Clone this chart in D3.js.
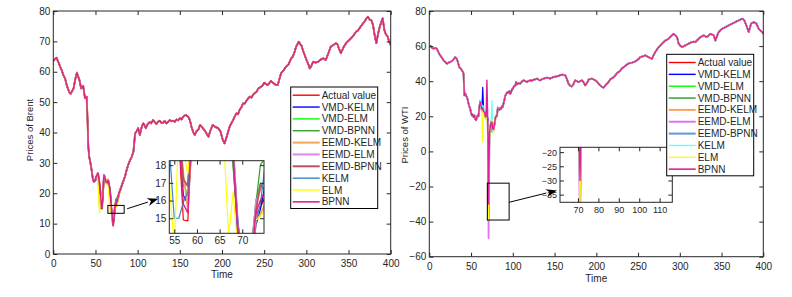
<!DOCTYPE html>
<html>
<head>
<meta charset="utf-8">
<script src="https://cdn.jsdelivr.net/npm/d3@7/dist/d3.min.js"></script>
<style>
body { margin: 0; background: #fff; }
text { font-family: "Liberation Sans", Arial, sans-serif; fill: #262626; }
</style>
</head>
<body>
<div id="chart"></div>
<script>
// ---- data ----
var seriesNames = ["Actual value", "VMD-KELM", "VMD-ELM", "VMD-BPNN", "EEMD-KELM",
    "EEMD-ELM", "EEMD-BPNN", "KELM", "ELM", "BPNN"];
var timeTicks = [0, 50, 100, 150, 200, 250, 300, 350, 400];
var brentTicks = [0, 10, 20, 30, 40, 50, 60, 70, 80];
var wtiTicks = [-60, -40, -20, 0, 20, 40, 60, 80];
var brentInsetXTicks = [55, 60, 65, 70];
var brentInsetYTicks = [15, 16, 17, 18];
var wtiInsetXTicks = [70, 80, 90, 100, 110];
var wtiInsetYTicks = [-20, -25, -30, -35];

// Brent, actual value (all models overlap it outside the crash window)
var brentT = [0, 2, 4, 5, 7, 9, 10, 12, 14, 16, 18, 19, 20.5, 22, 24, 26, 28, 29, 31, 33, 35.5, 37.5, 39.5, 40.5, 41.5, 42.6, 44, 45.4, 47, 48, 49,
    83, 85, 87, 89, 91, 93, 95, 97, 99, 100.6, 102.6, 104.5, 106.5, 108, 109.7, 112, 114.4, 116, 118.3, 120, 122.3, 124, 126.3, 128, 130, 132, 134, 136, 138, 140,
    142, 144, 146, 148, 150, 152, 154, 157, 160, 162, 163.8, 166, 167.7, 170, 172, 174, 177, 180, 182, 184, 186, 189, 192, 195, 198, 201, 203, 206, 209, 211,
    213, 215, 217, 219, 221, 223, 225, 227, 229, 231, 233, 235, 237, 239, 241, 243, 245, 248.5, 250, 252, 254, 256, 258, 260, 263, 266, 268, 270, 273, 276,
    279, 282, 284, 286, 288, 291, 293, 294, 296, 298, 300, 301, 303, 304, 306, 308, 311, 314, 317, 320, 323, 326, 329, 332, 335, 337, 338, 341, 344, 347,
    350, 353, 356, 359, 361, 363, 366, 369, 371, 373, 375, 377, 379, 381, 383, 385, 387, 389, 390.5, 392.5, 394, 396.5, 398, 400];
var brentV = [63.5, 64.2, 64.6, 63.8, 62.5, 61, 60.5, 58.8, 57.8, 55.5, 54, 53.2, 52.7, 53.5, 54.5, 57.5, 59.7, 58.8, 57.3, 54.5, 55.3, 51.3, 51.8, 45, 35.3, 32, 30, 27.7, 24.5, 23.8, 24.2,
    24, 25.5, 27.7, 29.5, 30.9, 32, 33.7, 39.7, 40.5, 41.4, 39.2, 41.5, 43, 42.5, 41.4, 42.8, 43.5, 43, 44.1, 43.5, 42.8, 43.5, 43.9, 43.2, 43.2, 43.8, 43, 43.5, 44.1, 43.7,
    43.9, 43.5, 44.3, 44, 44.7, 44.3, 45.2, 45.8, 45.2, 44, 41.9, 40, 39.2, 40.5, 41, 42.5, 41.5, 40.5, 39.5, 38.6, 40.5, 42.5, 41.8, 41.5, 40.5, 37.5, 36.4, 39, 41.9, 43,
    44, 45.2, 46.3, 46, 47.5, 48.3, 49.6, 49.5, 50.5, 51.2, 51.8, 51.5, 52.5, 53, 53.4, 54.5, 54.8, 55.6, 56.4, 56, 55.6, 56.2, 57, 56.5, 55.8, 55.6, 57.5, 59.5, 60.5, 61.7,
    62.5, 64.4, 65, 66.5, 68.3, 69.9, 69, 68.8, 67, 65.5, 64, 63.3, 62, 61.1, 62, 63.3, 63, 63.3, 64, 64.4, 63.9, 66, 68.3, 68.8, 69.4, 69, 68, 66.1, 68, 69.4,
    70.2, 71, 72, 73.2, 73.5, 74.3, 75.5, 76.5, 77.5, 78.1, 77.2, 77, 75.4, 72, 69.4, 72.5, 74.8, 76.5, 77.6, 73.7, 72.5, 71.5, 70, 68.8];

// Brent crash window, t = 50..80, one array per series
var brentWinT = d3.range(50, 81);
var brentActual = [24.5, 25.4, 26.0, 26.6, 24.5, 22.0, 19.5, 14.9, 14.85, 21.0, 26.0, 25.0, 23.8, 23.5, 23.3, 24.3, 22.5, 21.0, 18.5, 14.0, 11.5, 9.2, 12.5, 15.2, 15.6, 16.2, 17.8, 19.0, 20.0, 20.5, 21.5];
var brentVmdKelm = [24.0, 25.0, 25.8, 26.3, 25.0, 22.5, 20.0, 16.3, 15.8, 19.5, 25.0, 25.5, 24.0, 23.2, 23.5, 24.0, 23.0, 21.5, 19.0, 15.0, 12.0, 10.5, 11.8, 14.6, 15.5, 16.8, 17.5, 18.6, 19.8, 20.8, 21.3];
var brentVmdElm = [24.8, 25.2, 26.4, 26.2, 24.8, 21.5, 19.2, 17.1, 16.2, 20.5, 25.6, 25.2, 24.2, 23.8, 23.0, 24.5, 22.8, 20.5, 17.8, 14.5, 12.8, 10.8, 13.0, 16.0, 17.0, 16.5, 18.2, 19.4, 20.2, 20.8, 22.0];
var brentVmdBpnn = [24.2, 25.6, 26.1, 26.8, 24.2, 22.2, 19.8, 16.8, 17.0, 21.5, 25.8, 24.8, 23.6, 23.9, 23.6, 24.1, 22.2, 21.2, 18.6, 14.8, 13.2, 11.0, 13.5, 15.8, 18.0, 18.4, 18.8, 19.6, 20.6, 21.0, 21.8];
var brentEemdKelm = [24.6, 25.1, 26.2, 26.4, 25.2, 22.8, 20.5, 17.5, 15.5, 19.8, 25.2, 25.8, 24.5, 23.4, 23.1, 24.6, 23.2, 21.8, 19.3, 14.2, 11.3, 9.8, 11.0, 14.9, 15.2, 15.8, 17.0, 18.2, 19.5, 20.5, 21.2];
var brentEemdElm = [24.9, 25.5, 25.9, 26.7, 24.6, 22.4, 19.6, 18.4, 18.3, 21.3, 26.2, 25.4, 24.0, 23.6, 23.7, 24.2, 22.6, 21.4, 18.9, 14.6, 12.4, 10.2, 12.8, 15.9, 16.6, 17.2, 18.0, 19.2, 20.1, 20.9, 21.6];
var brentEemdBpnn = [24.4, 25.3, 26.3, 26.5, 24.9, 22.6, 20.2, 17.2, 16.8, 20.8, 25.4, 25.1, 24.3, 23.7, 23.4, 24.4, 22.9, 21.1, 18.2, 14.4, 11.8, 9.5, 12.2, 15.4, 16.9, 16.6, 17.3, 18.7, 19.9, 20.7, 21.9];
var brentKelm = [24.3, 25.7, 26.0, 26.2, 18.6, 15.0, 15.0, 15.9, 16.5, 20.0, 24.8, 25.6, 24.1, 23.3, 23.2, 24.2, 23.1, 21.6, 18.8, 13.8, 10.2, 9.9, 12.0, 14.8, 15.8, 17.9, 18.1, 18.9, 20.3, 20.6, 21.4];
var brentElm = [24.7, 25.0, 26.5, 25.8, 16.7, 13.4, 20.0, 18.8, 17.5, 20.4, 25.5, 25.3, 24.4, 23.0, 23.5, 24.5, 19.0, 14.0, 16.5, 13.2, 10.3, 10.8, 13.2, 14.9, 15.1, 15.5, 16.4, 18.5, 19.6, 20.4, 21.7];
var brentBpnn = [24.6, 25.4, 26.2, 26.5, 24.7, 22.3, 19.7, 15.8, 15.3, 20.6, 25.9, 25.2, 24.1, 23.6, 23.4, 24.3, 22.7, 21.3, 18.4, 14.3, 11.6, 9.6, 12.4, 15.3, 16.0, 16.5, 17.6, 18.8, 20.0, 20.7, 21.6];

// WTI, actual value
var wtiT = [1, 3, 5, 7, 9, 11, 13, 15, 17, 19, 21, 23, 25, 27, 28, 30, 31, 32.5, 33.6, 35, 36, 38, 39, 40, 41, 42, 43, 44, 45, 46, 47, 48, 49, 50, 51, 52, 53, 54, 55, 56, 57,
    83, 84, 85, 86, 87, 88, 89, 90, 91, 92, 93, 94, 95, 96, 97, 98, 99, 100, 101, 102, 103, 104, 105, 107, 109, 111, 113, 115, 117, 119, 121, 123, 125, 127, 129,
    131, 133, 135, 137, 139, 141, 143, 145, 147, 149, 151, 153, 155, 157, 159, 161, 163, 165, 166.7, 168.5, 170.7, 172.5, 174.7, 176.7, 178.7, 180.7, 182.7, 184.7,
    186.7, 188.7, 190.7, 192.7, 194.7, 196.7, 198.7, 200.7, 202.7, 204.7, 206.6, 208.6, 210.6, 212.6, 214.6, 216.6, 218.6, 220.6, 222.6, 224.6, 226.6, 228.6,
    230.6, 232.6, 234.6, 236.6, 238.6, 240.6, 242.6, 244.6, 246.6, 248.6, 250.6, 252.6, 254.6, 256.6, 258.6, 260.6, 262.6, 264.6, 266.7, 268.6, 270.6, 272.6,
    274.6, 276.6, 278.7, 280.6, 282.6, 284.6, 286.6, 288.6, 290.6, 292.6, 294.6, 296.7, 298.6, 300.6, 302.6, 304.6, 306.6, 308.6, 310.6, 312.6, 314.6, 316.6,
    318.6, 320.6, 322.6, 324.6, 326.6, 328.5, 330.6, 332.6, 334.6, 336.6, 338.6, 340.6, 342.6, 344.6, 346.5, 348.6, 350.6, 352.6, 354.6, 356.6, 358.5, 360.6,
    362.6, 364.6, 366.5, 368.6, 370.5, 372.6, 374.6, 376, 377.3, 379.7, 381, 382.5, 384, 385.4, 387, 388.5, 390, 391.7, 393, 394.5, 396.5, 398.5, 400];
var wtiV = [60.4, 59.2, 58.5, 59, 58.5, 56.5, 54.7, 53.5, 51.9, 51, 50, 50.6, 50.9, 51.5, 51.9, 53, 53.7, 53, 51.9, 49.5, 48, 47, 46.2, 45.5, 44.3, 31.9, 33, 32, 30.9, 29.5, 27.2, 25.5, 24.3, 22, 20.5, 21, 19.5, 20.5, 18.5, 17.7, 19.5,
    24, 23.6, 24.7, 24.1, 25.8, 25.3, 27.6, 29.4, 31.8, 32.5, 33.5, 33.9, 33.3, 34.4, 32.8, 33.7, 35.5, 35.4, 36.8, 37.3, 37.4, 39.6, 38.2, 38.9, 38.6, 39.8, 40.5, 40, 39.5, 40.2, 40.5, 40.3, 40.9, 41, 41.5,
    40.8, 40.5, 41.2, 41.5, 41.8, 42, 41.7, 41.5, 42, 42.4, 42.6, 42.8, 43.1, 43.4, 43.8, 43.6, 43.2, 41, 38.6, 37.5, 37, 38.2, 40.5, 40, 39.5, 40, 40.5, 39.5,
    37.6, 38.8, 40.9, 41.2, 41.5, 41, 40.5, 39.8, 38.6, 37.6, 36.8, 36.3, 37.5, 38.5, 39.5, 41, 41.6, 42.3, 43.2, 44.5, 45.2, 46,
    47.2, 48, 48.6, 49.5, 50, 50.4, 50.6, 50.9, 51.3, 51.9, 52.6, 53.7, 54, 54.3, 54.7, 54.2, 53.7, 53.2, 52.8, 54.8, 56.6, 58,
    59.4, 60.3, 61.4, 62.3, 63.2, 63.6, 64.2, 65.2, 66.1, 67, 66.2, 65.1, 61.4, 60.2, 59.4, 59.9, 60.4, 60.9, 61.4, 61.9, 62.3, 62.5,
    62.3, 63.2, 64.2, 65.1, 65.6, 66.1, 65.6, 65.1, 66, 67, 66.6, 66.1, 63.2, 65.8, 68, 69, 69.9, 70.3, 70.8, 71.3, 71.8, 72.3,
    72.8, 73.2, 73.7, 74.2, 74.6, 75.1, 75.6, 75.2, 74.6, 71.8, 70, 68, 70.5, 72.8, 73.2, 73.7, 73.3, 72.8, 71.5, 69.9, 68.8, 68, 67];

// WTI crash window, t = 58..82
var wtiWinT = d3.range(58, 83);
var wtiActual = [20.48, 20.31, 25.32, 28.34, 26.08, 23.63, 25.09, 22.76, 22.41, 20.11, 19.87, 19.87, 18.27, -37.63, 10.01, 13.78, 16.5, 16.94, 12.78, 12.34, 15.06, 18.84, 19.78, 20.39, 24.56];
var wtiVmdKelm = [19.5, 21.0, 24.0, 29.0, 27.5, 24.0, 36.5, 24.0, 22.0, 21.0, 19.5, 20.5, 17.0, -26.0, 8.0, 14.5, 15.8, 17.5, 13.5, 13.0, 15.5, 18.0, 20.2, 21.0, 23.8];
var wtiVmdElm = [21.0, 20.0, 24.8, 27.5, 26.5, 23.0, 26.0, 21.5, 23.0, 19.8, 18.5, 20.8, 16.2, -21.0, 12.5, 12.8, 14.0, 11.0, 13.5, 12.0, 16.0, 19.2, 19.4, 21.2, 24.0];
var wtiVmdBpnn = [20.8, 20.6, 25.8, 27.8, 25.5, 24.3, 24.6, 23.5, 21.8, 20.8, 19.4, 19.3, 18.9, -33.0, 9.5, 14.2, 17.2, 16.2, 13.3, 12.9, 14.6, 19.4, 20.3, 20.1, 25.1];
var wtiEemdKelm = [20.2, 20.9, 24.5, 28.9, 26.6, 22.8, 25.7, 22.2, 23.1, 19.6, 20.4, 19.1, 17.6, -38.3, 7.5, 14.8, 16.0, 17.6, 12.2, 13.2, 15.4, 18.3, 20.5, 20.8, 24.0];
var wtiEemdElm = [20.9, 19.8, 25.9, 27.6, 26.9, 23.1, 24.4, 23.3, 22.0, 20.7, 19.3, 20.5, 18.8, -49.5, 11.0, 13.2, 17.1, 16.5, 13.4, 11.8, 15.7, 19.3, 19.2, 21.0, 25.2];
var wtiEemdBpnn = [19.9, 20.7, 25.0, 28.8, 25.7, 24.1, 25.4, 22.4, 22.8, 19.7, 20.3, 19.4, 17.9, -35.0, 9.2, 14.5, 16.1, 17.5, 12.4, 12.9, 14.7, 18.5, 20.1, 20.0, 24.2];
var wtiKelm = [21.2, 19.6, 24.2, 29.2, 25.2, 24.6, 26.4, 21.8, 23.4, 20.6, 18.9, 20.9, 17.2, -10.0, 12.0, 13.1, 16.8, 29.0, 11.8, 13.5, 15.9, 18.1, 20.6, 21.3, 23.5];
var wtiElm = [20.1, 21.3, 24.6, 27.9, 27.0, 22.6, 5.3, 23.1, 22.2, 19.2, 20.6, 18.6, 16.4, -38.8, 6.0, 14.1, 15.7, 17.8, 13.8, 11.5, 14.4, 19.6, 19.1, 21.5, 24.4];
var wtiBpnn = [20.6, 20.1, 25.6, 28.1, 26.3, 23.9, 24.8, 23.0, 22.3, 20.3, 19.6, 40.5, 18.0, -30.0, 10.5, 13.5, 16.4, 16.7, 12.9, 12.6, 15.2, 18.7, 20.0, 20.6, 24.3];

// ---- styles ----
var brentColors = ["#ff0000", "#0000ff", "#00ff00", "#33a02c", "#f5a55a", "#dd88ee", "#c05060", "#3a88c8", "#ffff00", "#e0208c"];
var wtiColors = ["#ff0000", "#0000ff", "#00ff00", "#2a9a2a", "#f5a55a", "#dd77ee", "#5b9bd5", "#66ffff", "#ffff00", "#e0209a"];
var lineWidths = [1.2, 1.2, 1.2, 1.2, 1.8, 1.8, 1.8, 1.2, 1.2, 1.4];
var axisColor = "#262626";

var W = 792, H = 297;
var svg = d3.select("#chart").append("svg").attr("width", W).attr("height", H);
svg.append("rect").attr("width", W).attr("height", H).attr("fill", "#fff");

// model line = actual points outside the window + its own window values
function buildSeries(T, V, winT, winV)
{
    var pts = [];
    T.forEach(function (t, i) { if (t < winT[0]) pts.push([t, V[i]]); });
    winT.forEach(function (t, i) { pts.push([t, winV[i]]); });
    T.forEach(function (t, i) { if (t > winT[winT.length - 1]) pts.push([t, V[i]]); });
    return pts;
}

function drawLines(g, x, y, series, colors, clipId)
{
    var line = d3.line().x(function (d) { return x(d[0]); }).y(function (d) { return y(d[1]); });
    var lg = g.append("g").attr("clip-path", "url(#" + clipId + ")");
    series.forEach(function (s, i) {
        lg.append("path").datum(s).attr("d", line)
            .attr("fill", "none").attr("stroke", colors[i])
            .attr("stroke-width", lineWidths[i]).attr("stroke-linejoin", "round");
    });
}

// box with inward ticks on all four sides
function drawFrame(g, x, y, xTicks, yTicks, fontSize, pad)
{
    var r = x.range(), d = y.range();
    var fmt = d3.format("d");
    g.append("g").attr("transform", "translate(0," + d[0] + ")")
        .call(d3.axisBottom(x).tickValues(xTicks).tickFormat(fmt).tickSizeInner(-4).tickSizeOuter(0).tickPadding(pad));
    g.append("g").attr("transform", "translate(0," + d[1] + ")")
        .call(d3.axisTop(x).tickValues(xTicks).tickSizeInner(-4).tickSizeOuter(0).tickFormat(""));
    g.append("g").attr("transform", "translate(" + r[0] + ",0)")
        .call(d3.axisLeft(y).tickValues(yTicks).tickFormat(fmt).tickSizeInner(-4).tickSizeOuter(0).tickPadding(3));
    g.append("g").attr("transform", "translate(" + r[1] + ",0)")
        .call(d3.axisRight(y).tickValues(yTicks).tickSizeInner(-4).tickSizeOuter(0).tickFormat(""));
    g.selectAll(".domain").remove();
    g.selectAll(".tick line").attr("stroke", axisColor);
    g.selectAll(".tick text").attr("font-size", fontSize).attr("fill", axisColor)
        .style("font-family", "'Liberation Sans', Arial, sans-serif");
    g.append("rect").attr("x", r[0]).attr("y", d[1])
        .attr("width", r[1] - r[0]).attr("height", d[0] - d[1])
        .attr("fill", "none").attr("stroke", axisColor).attr("stroke-width", 1);
}

function arrow(g, x1, y1, x2, y2)
{
    var a = Math.atan2(y2 - y1, x2 - x1), L = 11, w = 4;
    var bx = x2 - L * Math.cos(a), by = y2 - L * Math.sin(a);
    g.append("line").attr("x1", x1).attr("y1", y1).attr("x2", bx).attr("y2", by)
        .attr("stroke", "#000").attr("stroke-width", 1);
    g.append("path").attr("fill", "#000")
        .attr("d", "M" + x2 + "," + y2 +
            "L" + (bx - w * Math.sin(a)) + "," + (by + w * Math.cos(a)) +
            "L" + (bx + L * 0.3 * Math.cos(a)) + "," + (by + L * 0.3 * Math.sin(a)) +
            "L" + (bx + w * Math.sin(a)) + "," + (by - w * Math.cos(a)) + "Z");
}

function drawPanel(p)
{
    var g = svg.append("g");
    var x = d3.scaleLinear().domain([0, 400]).range([p.left, p.right]);
    var y = d3.scaleLinear().domain(p.yDomain).range([p.bottom, p.top]);
    var series = p.win.map(function (wv) { return buildSeries(p.T, p.V, p.winT, wv); });

    g.append("clipPath").attr("id", p.id + "clip").append("rect")
        .attr("x", p.left).attr("y", p.top).attr("width", p.right - p.left).attr("height", p.bottom - p.top);
    drawLines(g, x, y, series, p.colors, p.id + "clip");
    drawFrame(g, x, y, timeTicks, p.yTicks, 10, 6);

    g.append("text").attr("x", x(200)).attr("y", p.timeY).attr("text-anchor", "middle")
        .attr("font-size", 10).text("Time");
    g.append("text").attr("transform", "translate(" + p.yLabelX + "," + p.yLabelY + ") rotate(-90)")
        .attr("text-anchor", "middle").attr("font-size", 9.5).text(p.yLabel);

    // zoom box on the main plot
    var zr = p.zoomRect;
    g.append("rect").attr("x", x(zr[0])).attr("y", y(zr[3]))
        .attr("width", x(zr[1]) - x(zr[0])).attr("height", y(zr[2]) - y(zr[3]))
        .attr("fill", "none").attr("stroke", "#000").attr("stroke-width", 1);

    // inset
    var ins = p.inset;
    var xi = d3.scaleLinear().domain(ins.xDomain).range([ins.left, ins.right]);
    var yi = d3.scaleLinear().domain(ins.yDomain).range([ins.bottom, ins.top]);
    var ig = g.append("g");
    ig.append("rect").attr("x", ins.left).attr("y", ins.top)
        .attr("width", ins.right - ins.left).attr("height", ins.bottom - ins.top).attr("fill", "#fff");
    ig.append("clipPath").attr("id", p.id + "iclip").append("rect")
        .attr("x", ins.left).attr("y", ins.top).attr("width", ins.right - ins.left).attr("height", ins.bottom - ins.top);
    drawLines(ig, xi, yi, series, p.colors, p.id + "iclip");
    drawFrame(ig, xi, yi, ins.xTicks, ins.yTicks, ins.font, 4);

    arrow(g, x(zr[1]) + p.arrowFrom[0], y(p.arrowFrom[1]), ins.left - p.arrowTo[0], yi(p.arrowTo[1]));

    // legend
    var lg = g.append("g").attr("transform", "translate(" + p.legend[0] + "," + p.legend[1] + ")");
    lg.append("rect").attr("width", 87).attr("height", 121.5)
        .attr("fill", "#fff").attr("stroke", "#000").attr("stroke-width", 1);
    seriesNames.forEach(function (name, i) {
        var yy = 8.2 + i * 11.85;
        lg.append("line").attr("x1", 2).attr("x2", 29).attr("y1", yy).attr("y2", yy)
            .attr("stroke", p.colors[i]).attr("stroke-width", lineWidths[i] + 0.2);
        lg.append("text").attr("x", 31).attr("y", yy).attr("dy", "0.35em")
            .attr("font-size", 10).attr("fill", "#000").text(name);
    });
}

drawPanel({
    id: "brent", left: 53.3, right: 390.7, top: 11, bottom: 254,
    yDomain: [0, 80], yTicks: brentTicks,
    T: brentT, V: brentV, winT: brentWinT,
    win: [brentActual, brentVmdKelm, brentVmdElm, brentVmdBpnn, brentEemdKelm,
        brentEemdElm, brentEemdBpnn, brentKelm, brentElm, brentBpnn],
    colors: brentColors,
    yLabel: "Prices of Brent", yLabelX: 33, yLabelY: 130, timeY: 277.5,
    zoomRect: [64.7, 84, 13.4, 16],
    arrowFrom: [3, 14.9], arrowTo: [11, 16.1],
    inset: { left: 169.3, right: 264, top: 160.7, bottom: 233.3, xDomain: [53.9, 74.8], yDomain: [14.15, 18.25],
        xTicks: brentInsetXTicks, yTicks: brentInsetYTicks, font: 10 },
    legend: [290.7, 87]
});

drawPanel({
    id: "wti", left: 429.3, right: 763.3, top: 11, bottom: 256.7,
    yDomain: [-60, 80], yTicks: wtiTicks,
    T: wtiT, V: wtiV, winT: wtiWinT,
    win: [wtiActual, wtiVmdKelm, wtiVmdElm, wtiVmdBpnn, wtiEemdKelm,
        wtiEemdElm, wtiEemdBpnn, wtiKelm, wtiElm, wtiBpnn],
    colors: wtiColors,
    yLabel: "Prices of WTI", yLabelX: 408, yLabelY: 135, timeY: 281.5,
    zoomRect: [69.5, 95.6, -39.1, -18.1],
    arrowFrom: [0, -29], arrowTo: [3, -33.5],
    inset: { left: 560, right: 672.3, top: 147.3, bottom: 202.3, xDomain: [61.2, 116.2], yDomain: [-37.7, -18.3],
        xTicks: wtiInsetXTicks, yTicks: wtiInsetYTicks, font: 9 },
    legend: [666.7, 54.3]
});
</script>
</body>
</html>
